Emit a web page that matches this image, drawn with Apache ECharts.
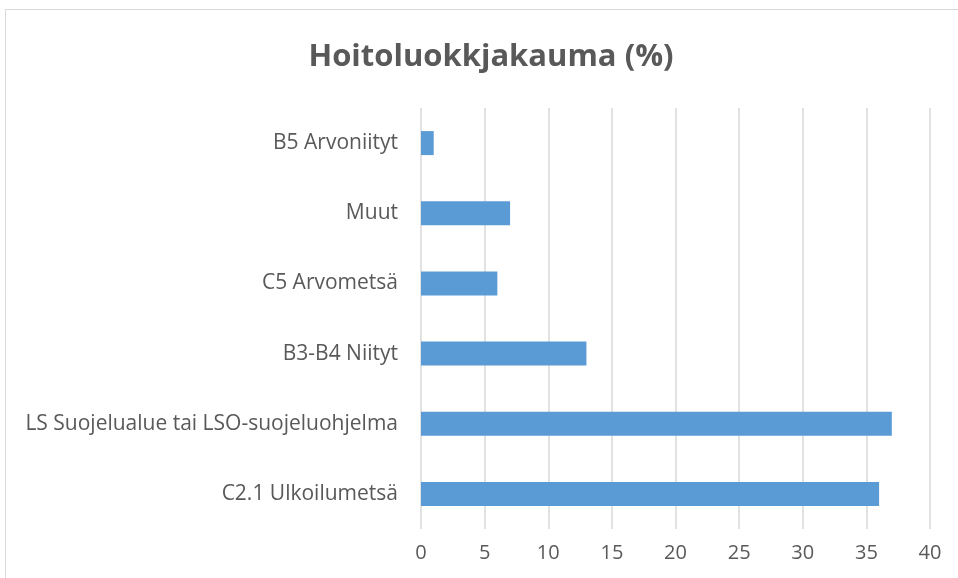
<!DOCTYPE html>
<html>
<head>
<meta charset="utf-8">
<script src="https://cdn.jsdelivr.net/npm/echarts@6/dist/echarts.min.js"></script>
<style>
  html, body { margin: 0; padding: 0; background: #fff; }
  #chart { width: 958px; height: 578px; }
</style>
</head>
<body>
<div id="chart"></div>
<script>
  // data, bottom to top
  let categories = ['C2.1 Ulkoilumetsä', 'LS Suojelualue tai LSO-suojeluohjelma', 'B3-B4 Niityt', 'C5 Arvometsä', 'Muut', 'B5 Arvoniityt'];
  let values = [36, 37, 13, 6, 7, 1];
  let titleText = 'Hoitoluokkjakauma (%)';

  let myChart = echarts.init(document.getElementById('chart'));

  let option = {
    backgroundColor: '#fff',
    title: {
      text: titleText,
      left: 486,
      textAlign: 'center',
      top: 37,
      textStyle: {
        fontFamily: 'Open Sans',
        fontSize: 31,
        fontWeight: 'bold',
        color: '#595959'
      }
    },
    grid: {
      left: 421,
      right: 28,
      top: 108,
      bottom: 49
    },
    xAxis: {
      type: 'value',
      min: 0,
      max: 40,
      interval: 5,
      axisLine: { show: false },
      axisTick: { show: false },
      axisLabel: {
        color: '#595959',
        fontFamily: 'Open Sans',
        fontSize: 20,
        margin: 14
      },
      splitLine: {
        lineStyle: { color: '#d9d9d9', width: 1.5 }
      }
    },
    yAxis: {
      type: 'category',
      data: categories,
      axisLine: { show: false },
      axisTick: { show: false },
      axisLabel: {
        color: '#595959',
        fontFamily: 'Open Sans',
        fontSize: 21,
        margin: 23
      }
    },
    series: [{
      type: 'bar',
      data: values,
      barWidth: 24,
      itemStyle: { color: '#5b9bd5' },
      silent: true
    }],
    graphic: [{
      type: 'rect',
      shape: { x: 5.5, y: 9.5, width: 960, height: 580 },
      style: { fill: 'none', stroke: '#d9d9d9', lineWidth: 1 },
      silent: true
    }]
  };
  myChart.setOption(option);
</script>
</body>
</html>
